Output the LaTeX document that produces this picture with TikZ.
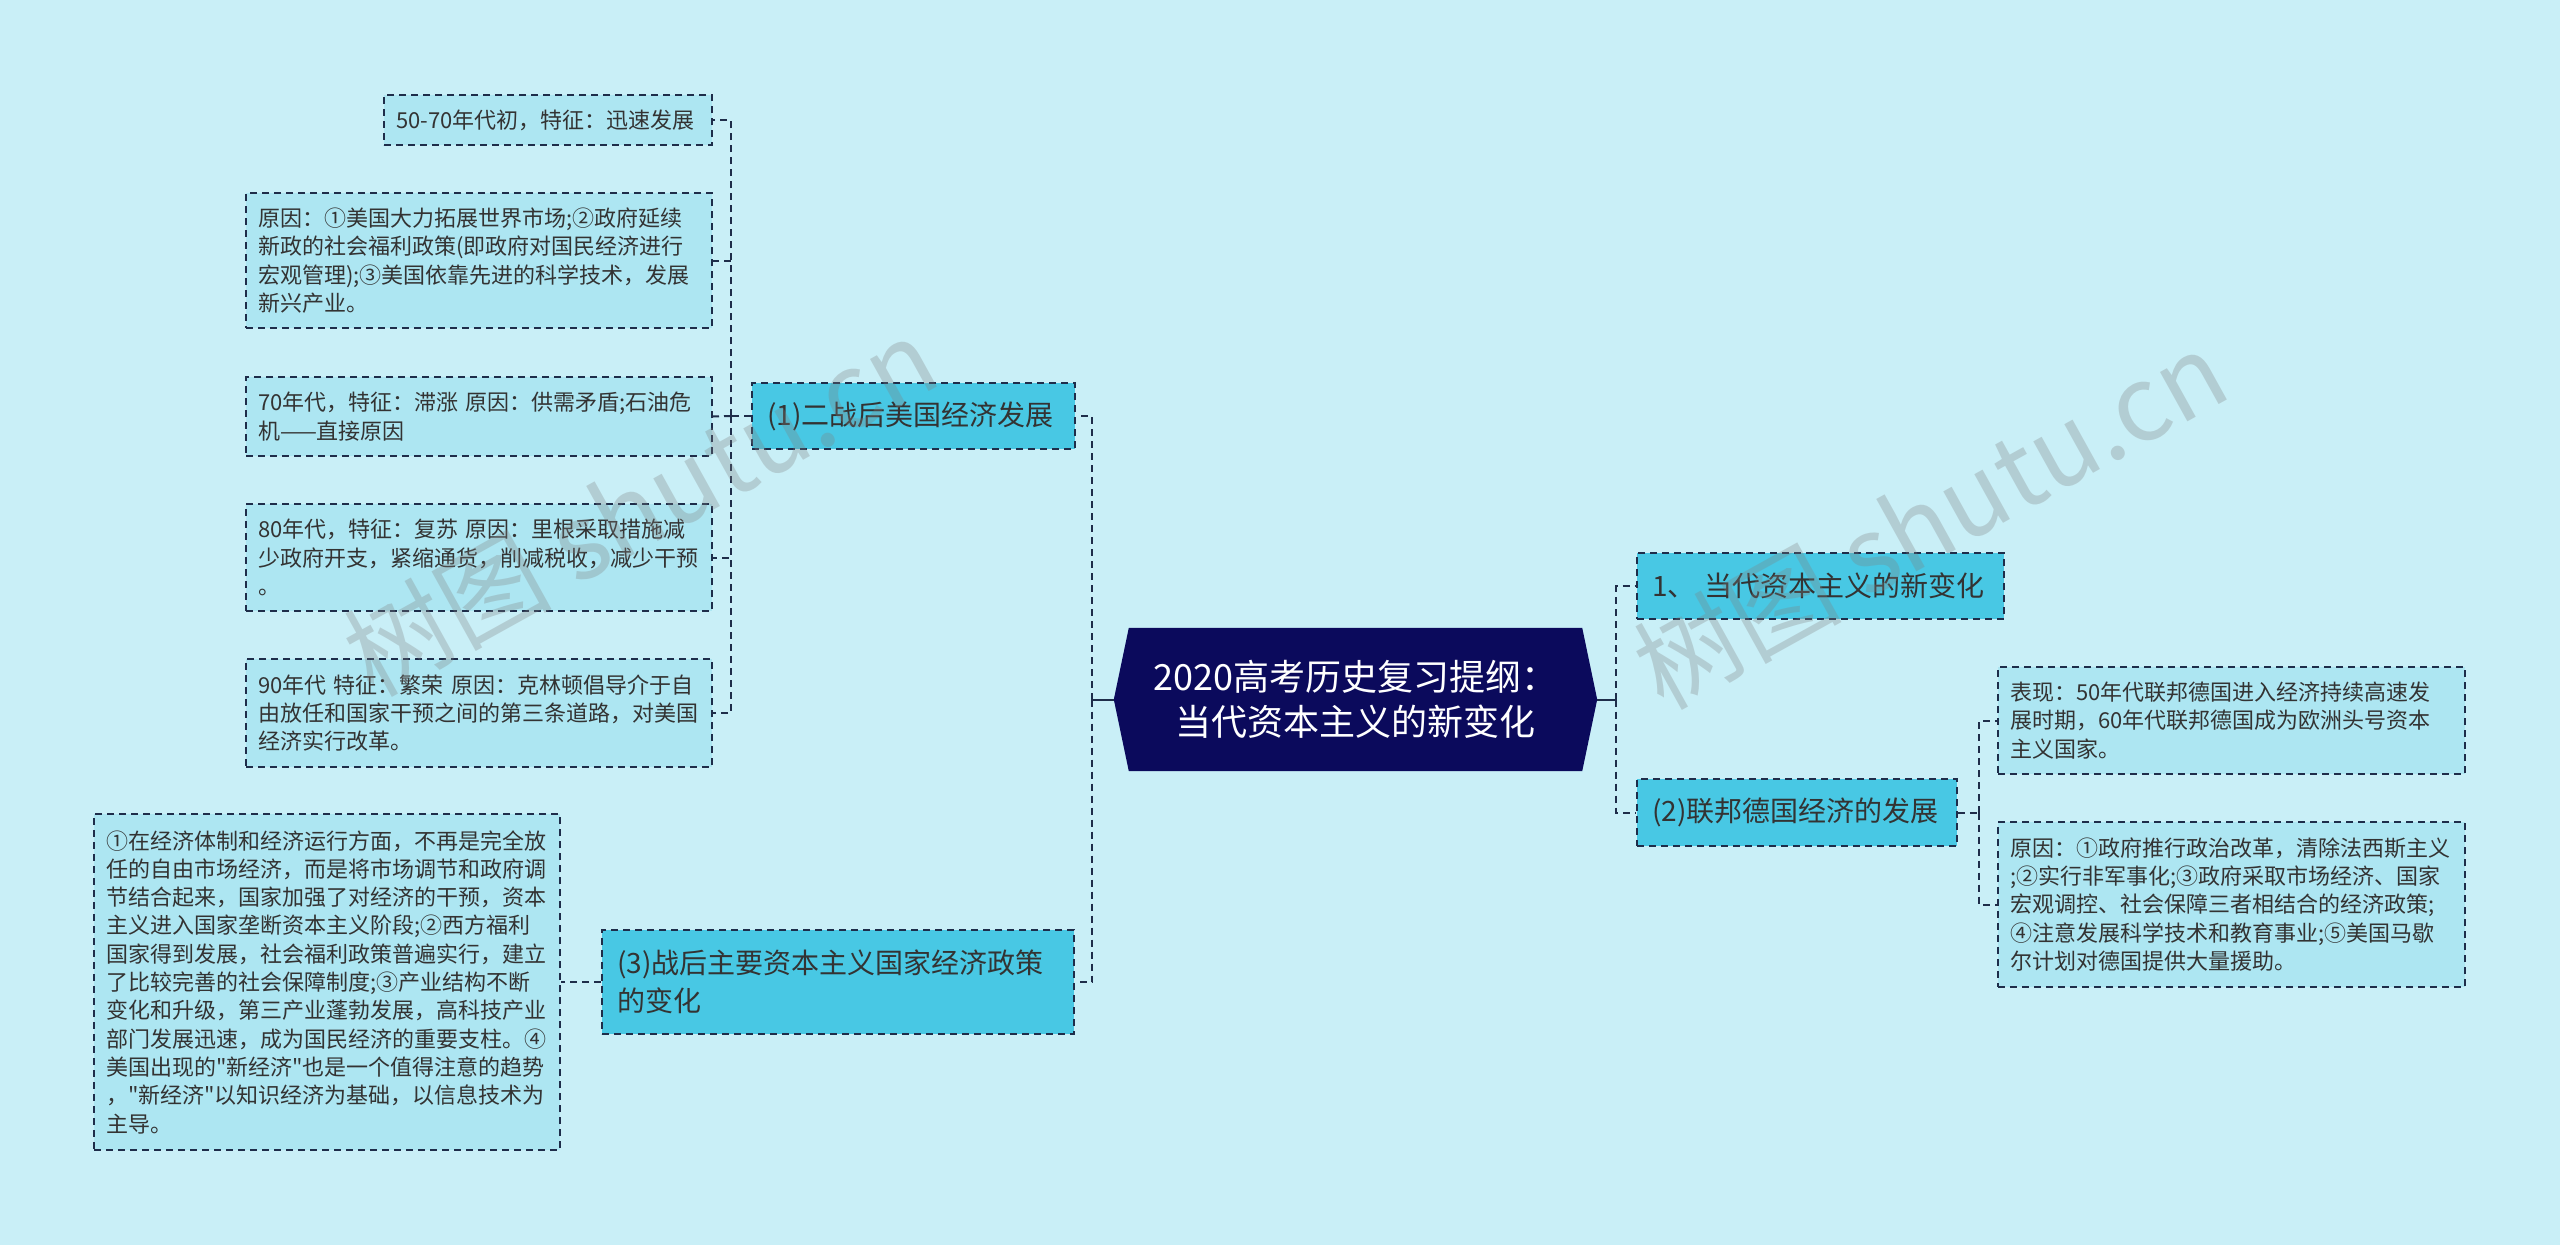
\documentclass[tikz,border=0pt]{standalone}
\usepackage{fontspec}
\setmainfont{Noto Sans CJK SC}
\newfontfamily\cjk{Noto Sans CJK SC}
\definecolor{bgc}{HTML}{C9EFF7}
\definecolor{leaffill}{HTML}{ADE6F2}
\definecolor{branchfill}{HTML}{48C8E4}
\definecolor{rootfill}{HTML}{0B0A5C}
\definecolor{linec}{HTML}{1E2D4A}
\definecolor{txt}{HTML}{333333}
\newcommand{\sq}{{\cjk"}}
\begin{document}
\begin{tikzpicture}[x=1pt,y=-1pt,
  conn/.style={draw=linec,line width=2pt,dash pattern=on 7pt off 5pt},
  solidconn/.style={draw=linec,line width=2pt},
  leaf/.style={draw=linec,line width=1.6pt,dash pattern=on 7pt off 5pt,fill=leaffill,
    text=txt,inner xsep=12pt,inner ysep=0pt,align=left,
    font=\fontsize{22}{28.3}\selectfont},
  branch/.style={draw=linec,line width=1.6pt,dash pattern=on 7pt off 5pt,fill=branchfill,
    text=txt,inner xsep=15pt,inner ysep=0pt,align=left,
    font=\fontsize{28}{38}\selectfont},
  wm/.style={text=gray,opacity=0.3,font=\fontsize{104}{106}\selectfont,rotate=29}
]
\fill[bgc] (0,0) rectangle (2560,1245);
\useasboundingbox (0,0) rectangle (2560,1245);

% root
\node[minimum width=483pt,minimum height=143pt,inner sep=0pt] (root) at (1355.5,699.5) {};
\fill[rootfill] (root.west) -- ([xshift=15pt]root.north west) -- ([xshift=-15pt]root.north east)
  -- (root.east) -- ([xshift=-15pt]root.south east) -- ([xshift=15pt]root.south west) -- cycle;
\node[text=white,align=center,font=\fontsize{36}{45}\selectfont] (roottext) at (root.center)
  {2020高考历史复习提纲：\\当代资本主义的新变化};

% branches
\node[branch,minimum width=323pt,minimum height=66pt,text width=293pt] (b1) at (913.5,416) {(1)二战后美国经济发展};
\node[branch,minimum width=472pt,minimum height=104pt,text width=442pt] (b3) at (838,982) {(3)战后主要资本主义国家经济政策\\的变化};
\node[branch,minimum width=367pt,minimum height=66pt,text width=337pt] (b2) at (1820.5,586) {1、 当代资本主义的新变化};
\node[branch,minimum width=320pt,minimum height=67pt,text width=290pt] (b4) at (1797,812.5) {(2)联邦德国经济的发展};

% leaves of (1)
\node[leaf,minimum width=328pt,minimum height=50pt,text width=304pt] (la) at (548,120) {50-70年代初，特征：迅速发展};
\node[leaf,minimum width=466pt,minimum height=135pt,text width=442pt] (lb) at (479,260.5) {原因：①美国大力拓展世界市场;②政府延续\\新政的社会福利政策(即政府对国民经济进行\\宏观管理);③美国依靠先进的科学技术，发展\\新兴产业。};
\node[leaf,minimum width=466pt,minimum height=79pt,text width=442pt] (lc) at (479,416.5) {70年代，特征：滞涨 原因：供需矛盾;石油危\\机——直接原因};
\node[leaf,minimum width=466pt,minimum height=107pt,text width=442pt] (ld) at (479,557.5) {80年代，特征：复苏 原因：里根采取措施减\\少政府开支，紧缩通货，削减税收，减少干预\\。};
\node[leaf,minimum width=466pt,minimum height=108pt,text width=442pt] (le) at (479,713) {90年代 特征：繁荣 原因：克林顿倡导介于自\\由放任和国家干预之间的第三条道路，对美国\\经济实行改革。};

% leaf of (3)
\node[leaf,minimum width=466pt,minimum height=336pt,text width=442pt] (lf) at (327,982) {①在经济体制和经济运行方面，不再是完全放\\任的自由市场经济，而是将市场调节和政府调\\节结合起来，国家加强了对经济的干预，资本\\主义进入国家垄断资本主义阶段;②西方福利\\国家得到发展，社会福利政策普遍实行，建立\\了比较完善的社会保障制度;③产业结构不断\\变化和升级，第三产业蓬勃发展，高科技产业\\部门发展迅速，成为国民经济的重要支柱。④\\美国出现的\sq 新经济\sq 也是一个值得注意的趋势\\，\sq 新经济\sq 以知识经济为基础，以信息技术为\\主导。};

% leaves of (2)
\node[leaf,minimum width=467pt,minimum height=107pt,text width=443pt] (lg) at (2231.5,720.5) {表现：50年代联邦德国进入经济持续高速发\\展时期，60年代联邦德国成为欧洲头号资本\\主义国家。};
\node[leaf,minimum width=467pt,minimum height=165pt,text width=443pt] (lh) at (2231.5,904.5) {原因：①政府推行政治改革，清除法西斯主义\\;②实行非军事化;③政府采取市场经济、国家\\宏观调控、社会保障三者相结合的经济政策;\\④注意发展科学技术和教育事业;⑤美国马歇\\尔计划对德国提供大量援助。};

% connectors
\coordinate (lt) at (1092,699.5);
\coordinate (rt) at (1616,699.5);
\draw[solidconn] (root.west) -- (lt);
\draw[solidconn] (root.east) -- (rt);
\draw[conn] (lt) |- (b1.east);
\draw[conn] (lt) |- (b3.east);
\draw[conn] (rt) |- (b2.west);
\draw[conn] (rt) |- (b4.west);

\coordinate (ls) at (731,416);
\draw[conn] (b1.west) -- (ls);
\draw[conn] (ls) |- (la.east);
\draw[conn] (ls) |- (lb.east);
\draw[conn] (ls) -- (lc.east);
\draw[conn] (ls) |- (ld.east);
\draw[conn] (ls) |- (le.east);

\draw[conn] (b3.west) -- (lf.east);

\coordinate (rs) at (1979,812.5);
\draw[conn] (b4.east) -- (rs);
\draw[conn] (rs) |- (lg.west);
\draw[conn] (rs) |- (lh.west);

% watermarks
\node[wm] (wm1) at (640,506) {树图 shutu.cn};
\node[wm] (wm2) at (1930,519) {树图 shutu.cn};
\end{tikzpicture}
\end{document}
